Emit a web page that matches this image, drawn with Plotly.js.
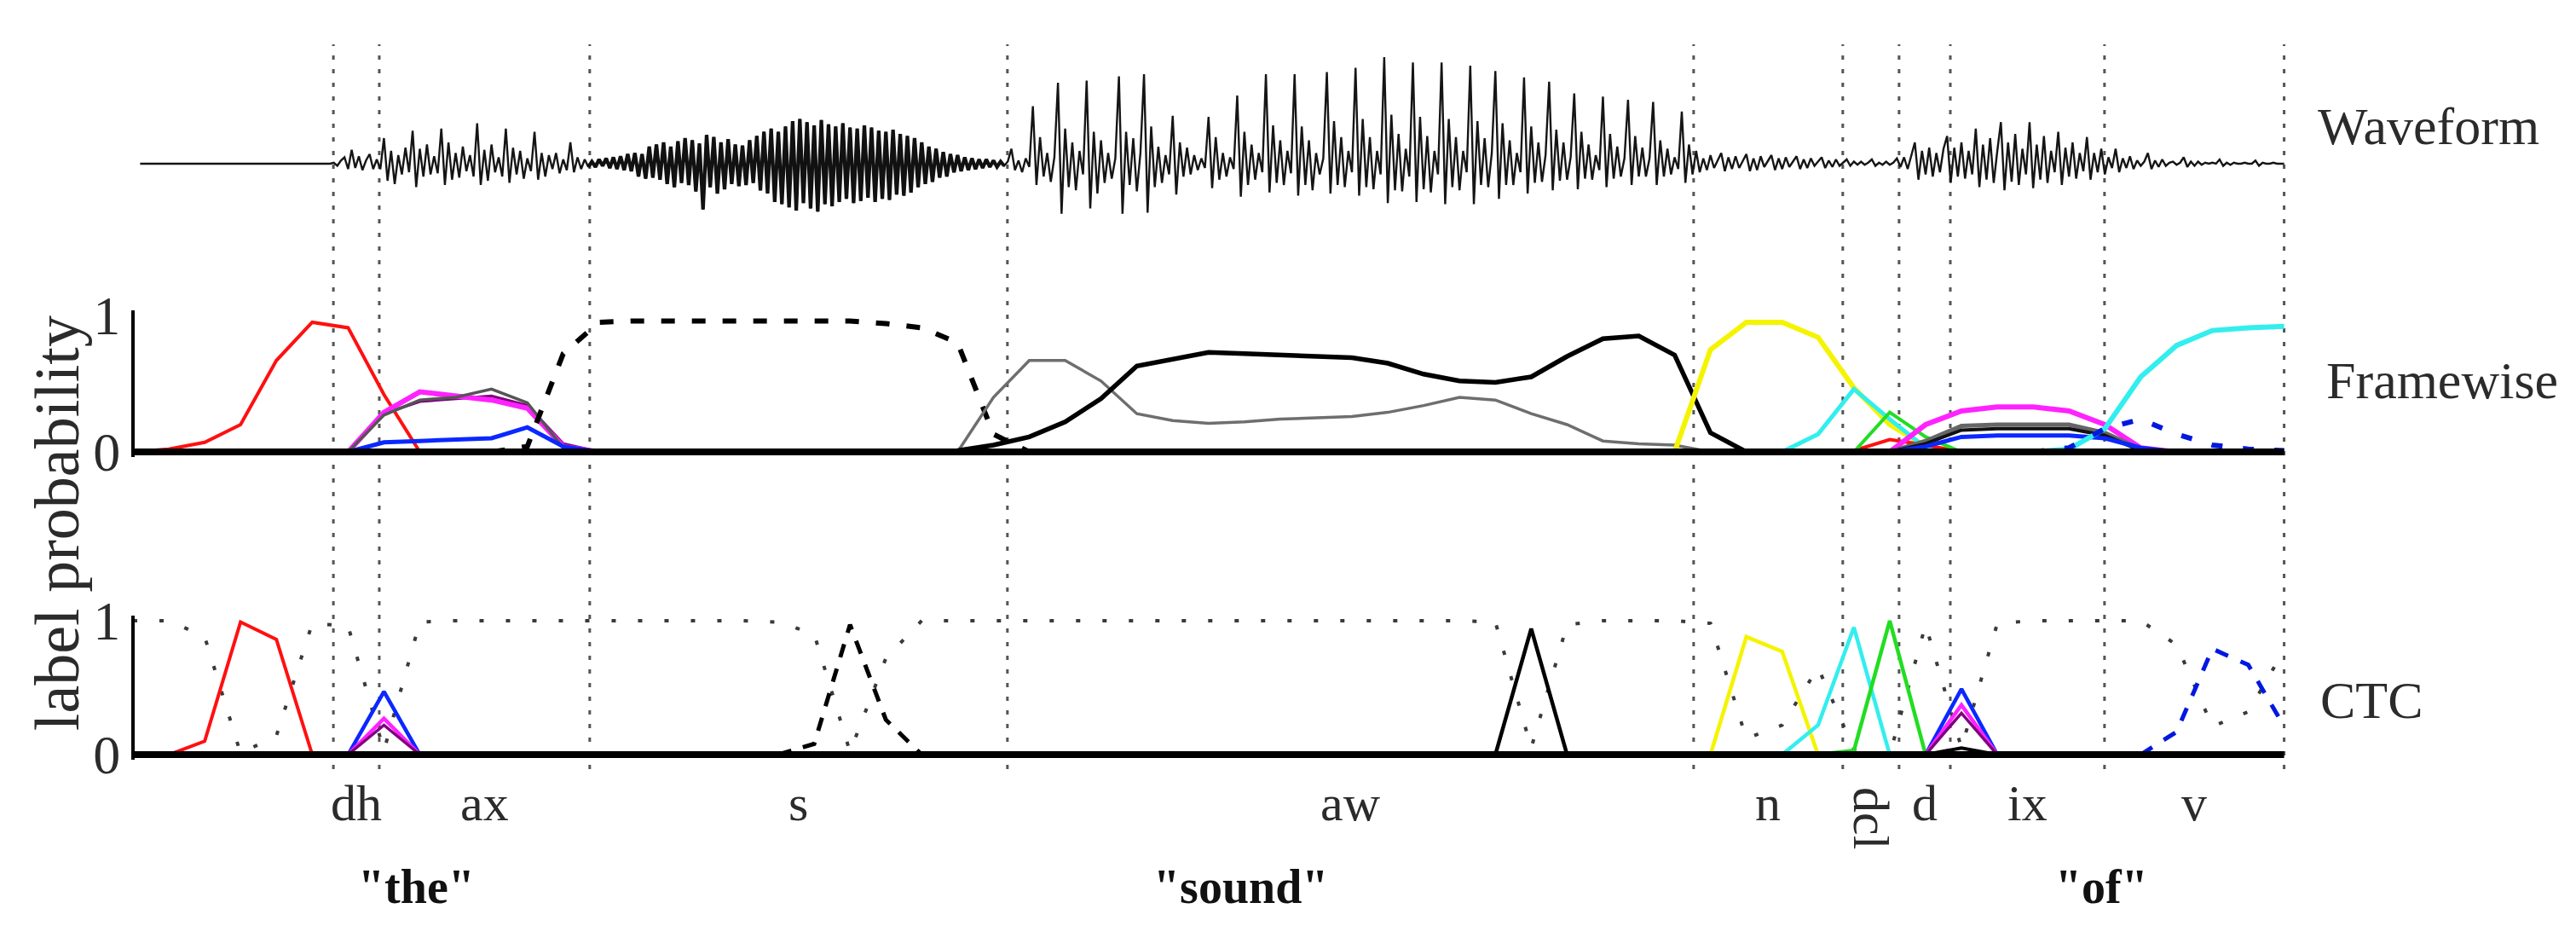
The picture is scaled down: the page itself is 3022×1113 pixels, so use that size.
<!DOCTYPE html>
<html><head><meta charset="utf-8">
<script src="https://cdn.plot.ly/plotly-3.0.1.min.js"></script>
<style>html,body{margin:0;padding:0;background:#fff;} #chart{width:3022px;height:1113px;}</style>
</head><body><div id="chart"></div>
<script>
// ---------- segmentation (x unit = frame, 10 ms) ----------
const phoneLabels = ['dh','ax','s','aw','n','dcl','d','ix','v'];
const phoneBounds = [5.59, 6.87, 12.74, 24.39, 43.53, 47.69, 49.26, 50.69, 54.99, 60.0];
const wordLabels = ['"the"', '"sound"', '"of"'];
const wordCenters = [7.9, 30.9, 54.9];
const panelLabels = ['Waveform', 'Framewise', 'CTC'];
const yTickVals = [0, 1];
const yTickText = ['0', '1'];

// ---------- waveform samples (start frame, step in frames) ----------
const waveStart = 0.2, waveStep = 0.1;
const waveform = [
0,0,0,0,0,0,0,0,0,0,0,0,0,0,0,0,0,0,0,0,0,0,0,0,0,0,0,0,0,0,0,0,0,0,0,0,0,0,0,0,0,0,0,0,0,0,0,0,0,0,0,0,0,
0,0.01,-0.02,0.03,0.06,-0.05,0.13,-0.04,0.07,-0.06,0.03,0.09,-0.05,0.04,
-0.05,0.24,-0.16,0.12,-0.19,0.08,-0.1,0.15,-0.08,0.31,-0.22,0.14,-0.12,0.18,-0.1,0.07,-0.09,0.33,-0.2,0.2,-0.15,0.1,-0.13,0.16,-0.07,0.08,-0.12,0.38,-0.2,0.13,-0.16,0.18,-0.08,0.06,-0.12,0.33,-0.18,0.15,-0.1,0.12,-0.14,0.05,-0.07,0.3,-0.15,0.1,-0.12,0.08,-0.05,0.1,-0.09,0.04,-0.06,0.2,-0.08,0.06,-0.05,0.04,-0.03,
0.02,-0.03,0.04,-0.02,0.05,-0.04,0.06,-0.05,0.07,-0.06,0.09,-0.07,0.1,-0.12,0.09,-0.14,0.16,-0.13,0.18,-0.15,0.2,-0.19,0.16,-0.22,0.21,-0.18,0.24,-0.2,0.22,-0.26,0.19,-0.43,0.27,-0.22,0.25,-0.28,0.2,-0.24,0.23,-0.19,0.18,-0.21,0.17,-0.2,0.22,-0.18,0.26,-0.25,0.3,-0.28,0.33,-0.36,0.3,-0.38,0.35,-0.41,0.4,-0.44,0.42,-0.37,0.39,-0.42,0.36,-0.45,0.41,-0.38,0.37,-0.4,0.35,-0.36,0.38,-0.33,0.34,-0.37,0.33,-0.35,0.36,-0.32,0.34,-0.36,0.31,-0.33,0.3,-0.34,0.32,-0.29,0.28,-0.3,0.26,-0.27,0.24,-0.22,0.2,-0.19,0.16,-0.17,0.14,-0.13,0.11,-0.12,0.09,-0.08,0.08,-0.07,0.06,-0.06,0.05,-0.05,0.04,-0.04,0.04,-0.03,0.03,-0.03,0.02,-0.02,
0.02,0.14,-0.06,0.03,-0.08,0.05,-0.03,0.54,-0.2,0.25,-0.12,0.1,-0.17,0.06,0.76,-0.47,0.33,-0.22,0.2,-0.25,0.12,-0.1,0.78,-0.42,0.3,-0.28,0.22,-0.18,0.1,-0.14,0.05,0.82,-0.47,0.3,-0.2,0.24,-0.26,0.1,0.84,-0.46,0.35,-0.22,0.16,-0.18,0.08,-0.1,0.45,-0.29,0.2,-0.12,0.15,-0.1,0.08,-0.06,0.05,-0.04,0.44,-0.23,0.25,-0.15,0.1,-0.12,0.06,-0.05,0.64,-0.31,0.3,-0.2,0.18,-0.15,0.1,-0.08,0.84,-0.27,0.36,-0.18,0.22,-0.2,0.12,-0.09,0.84,-0.3,0.35,-0.2,0.22,-0.25,0.1,-0.1,0.05,0.86,-0.28,0.4,-0.2,0.25,-0.22,0.12,-0.08,0.9,-0.3,0.42,-0.22,0.25,-0.24,0.12,-0.1,1.0,-0.37,0.46,-0.25,0.28,-0.26,0.14,-0.12,0.95,-0.36,0.44,-0.24,0.26,-0.27,0.12,-0.1,0.95,-0.38,0.42,-0.22,0.25,-0.25,0.12,-0.08,0.92,-0.38,0.4,-0.2,0.24,-0.22,0.1,0.87,-0.33,0.38,-0.2,0.22,-0.2,0.1,-0.08,0.81,-0.28,0.35,-0.18,0.2,-0.17,0.08,0.77,-0.25,0.32,-0.16,0.2,-0.15,0.06,0.66,-0.24,0.3,-0.14,0.18,-0.15,0.08,-0.06,0.63,-0.22,0.28,-0.14,0.16,-0.12,0.05,0.6,-0.2,0.26,-0.12,0.15,-0.12,0.05,0.58,-0.2,0.22,-0.12,0.14,-0.1,0.06,-0.05,0.49,-0.18,0.18,-0.1,
0.12,-0.08,0.05,-0.06,0.08,-0.04,0.03,0.1,-0.07,0.06,-0.05,0.07,-0.04,0.02,0.09,-0.07,0.05,-0.06,0.07,-0.03,0.02,0.08,-0.06,0.05,-0.05,0.06,-0.03,0.02,0.07,-0.05,0.04,-0.04,0.05,-0.02,0.02,0.06,-0.04,0.03,-0.03,0.04,-0.02,0.01,0.04,-0.02,0.02,-0.01,0.02,-0.01,0.01,0.04,-0.02,0.01,-0.01,0.02,-0.01,0.01,0.05,-0.03,0.06,-0.05,0.08,0.2,-0.15,0.12,-0.1,0.15,-0.12,0.1,-0.08,0.14,0.26,-0.18,0.15,-0.12,0.2,-0.14,0.12,-0.1,0.33,-0.22,0.18,-0.15,0.24,-0.18,0.12,0.39,-0.25,0.2,-0.17,0.28,-0.2,0.14,-0.1,0.39,-0.23,0.18,-0.15,0.26,-0.18,0.12,-0.08,0.3,-0.2,0.15,-0.12,0.2,-0.14,0.1,-0.07,0.25,-0.15,0.1,-0.08,0.14,-0.1,0.06,-0.04,0.14,-0.08,0.05,-0.04,0.07,-0.05,0.03,-0.02,0.02,0.1,-0.05,0.03,-0.03,0.04,-0.02,0.01,0.02,-0.01,0.01,0.06,-0.03,0.02,-0.02,0.02,-0.01,0.01,0,0.01,0,0.04,-0.02,0.01,-0.01,0.01,0,0,0.01,0,0,0.03,-0.02,0.01,0,0,0.01,0,0,0
];

// ---------- framewise label probabilities (start frame + per-frame values) ----------
const fwRedStart = 0;   const fwRed = [0,0.02,0.07,0.2,0.67,0.95,0.91,0.42,0];
const fwAxStart = 6;
const fwAxMagenta = [0,0.29,0.44,0.41,0.38,0.32,0.04,0];
const fwAxGray    = [0,0.27,0.38,0.40,0.46,0.36,0.03,0];
const fwAxPurple  = [0,0.28,0.37,0.39,0.41,0.34,0.06,0];
const fwAxBlue    = [0,0.07,0.08,0.09,0.10,0.18,0.04,0];
const fwSStart = 10;    const fwS = [0,0.04,0.72,0.95,0.96,0.96,0.96,0.96,0.96,0.96,0.96,0.94,0.91,0.8,0.13,0];
const fwAwGrayStart = 22;  const fwAwGray = [0,0,0.4,0.67,0.67,0.52,0.28,0.23,0.21,0.22,0.24,0.25,0.26,0.29,0.34,0.40,0.38,0.28,0.2,0.08,0.06,0.05,0];
const fwAwBlackStart = 22; const fwAwBlack = [0,0.01,0.05,0.11,0.22,0.39,0.63,0.68,0.73,0.72,0.71,0.70,0.69,0.65,0.57,0.52,0.51,0.55,0.70,0.83,0.85,0.71,0.14,0];
const fwNStart = 42;    const fwN = [0,0,0.75,0.95,0.95,0.84,0.47,0.2,0.04,0];
const fwDclStart = 45;  const fwDcl = [0,0,0.13,0.46,0.24,0.03,0];
const fwDStart = 47;    const fwD = [0,0,0.29,0.11,0];
const fwRed2Start = 47; const fwRed2 = [0,0.01,0.09,0.05,0];
const fwIxStart = 49;
const fwIxMagenta = [0,0.2,0.3,0.33,0.33,0.3,0.2,0.03,0];
const fwIxGray    = [0,0.08,0.19,0.2,0.2,0.2,0.14,0.02,0];
const fwIxBlack   = [0,0.06,0.16,0.17,0.17,0.17,0.12,0.01,0];
const fwIxBlue    = [0,0.04,0.11,0.12,0.12,0.12,0.1,0.03,0];
const fwVStart = 53;
const fwVCyan = [0,0.02,0.17,0.55,0.78,0.89,0.91,0.92];
const fwVBlueDash = [0,0.03,0.17,0.24,0.13,0.05,0.02,0.01];
const baseT = [0, 60];  const baseV = [0, 0];

// ---------- CTC outputs ----------
const ctcBlankStart = 0;
const ctcBlank = [1,1,0.88,0.01,0.14,0.98,0.96,0.03,0.99,1,1,1,1,1,1,1,1,1,0.99,0.9,0.02,0.72,1,1,1,1,1,1,1,1,1,1,1,1,1,1,1,1,0.99,0.05,0.97,1,1,1,0.98,0.12,0.22,0.65,0.04,0,0.97,0.05,0.98,1,1,1,1,0.82,0.21,0.32,0.78];
const ctcRedStart = 1;  const ctcRed = [0,0.1,0.99,0.86,0];
const ctcDhStart = 6;
const ctcDhBlue = [0,0.47,0]; const ctcDhMagenta = [0,0.27,0]; const ctcDhPurple = [0,0.22,0];
const ctcSStart = 18;   const ctcS = [0,0.08,0.97,0.26,0];
const ctcAwStart = 38;  const ctcAw = [0,0.94,0];
const ctcNStart = 44;   const ctcN = [0,0.88,0.77,0];
const ctcDclStart = 46; const ctcDcl = [0,0.22,0.95,0];
const ctcDStart = 47;   const ctcD = [0,0.03,1.0,0];
const ctcIxStart = 50;
const ctcIxBlue = [0,0.49,0]; const ctcIxMagenta = [0,0.37,0]; const ctcIxPurple = [0,0.31,0]; const ctcIxBlack = [0,0.05,0];
const ctcVStart = 56;   const ctcV = [0,0.17,0.79,0.67,0.21];

// ---------- build ----------
const FONT = '"Liberation Serif","Times New Roman",Times,serif';
const TXT = '#2b2b2b';
const frames = (start, vals) => vals.map((_, i) => start + i);
function ln(start, vals, yaxis, color, width, dash) {
  return {type:'scatter', mode:'lines', x: frames(start, vals), y: vals, xaxis:'x', yaxis: yaxis,
          line:{color: color, width: width, dash: dash || 'solid'}, hoverinfo:'skip', showlegend:false};
}
const traces = [];
// waveform (whole), then the fricative /s/ stretch again with a heavier stroke (dense noise)
const waveT = waveform.map((_, i) => waveStart + i*waveStep);
traces.push({type:'scatter', mode:'lines', x: waveT, y: waveform,
  xaxis:'x', yaxis:'y3', line:{color:'#151515', width:2.4}, hoverinfo:'skip', showlegend:false});
const sIdx = waveT.map((t, i) => i).filter(i => waveT[i] >= phoneBounds[2] - 0.05 && waveT[i] <= phoneBounds[3] - 0.05);
traces.push({type:'scatter', mode:'lines', x: sIdx.map(i => waveT[i]), y: sIdx.map(i => waveform[i]),
  xaxis:'x', yaxis:'y3', line:{color:'#111', width:4.2}, hoverinfo:'skip', showlegend:false});
// framewise
traces.push(ln(fwRedStart, fwRed, 'y', '#ff1010', 4));
traces.push(ln(fwAxStart, fwAxPurple, 'y', '#800080', 3.5));
traces.push(ln(fwAxStart, fwAxMagenta, 'y', '#ff22ff', 6));
traces.push(ln(fwAxStart, fwAxGray, 'y', '#555555', 3.5));
traces.push(ln(fwAxStart, fwAxBlue, 'y', '#0a28ff', 5));
traces.push(ln(fwSStart, fwS, 'y', '#000000', 6, '16px,20px'));
traces.push(ln(fwAwGrayStart, fwAwGray, 'y', '#6e6e6e', 3.5));
traces.push(ln(fwAwBlackStart, fwAwBlack, 'y', '#000000', 5.5));
traces.push(ln(fwNStart, fwN, 'y', '#f4f400', 6));
traces.push(ln(fwDclStart, fwDcl, 'y', '#33eeee', 5));
traces.push(ln(fwRed2Start, fwRed2, 'y', '#ff1010', 4));
traces.push(ln(fwDStart, fwD, 'y', '#22dd22', 4));
traces.push(ln(fwIxStart, fwIxMagenta, 'y', '#ff22ff', 6));
traces.push(ln(fwIxStart, fwIxGray, 'y', '#666666', 5));
traces.push(ln(fwIxStart, fwIxBlack, 'y', '#111111', 4));
traces.push(ln(fwIxStart, fwIxBlue, 'y', '#0a28ff', 5));
traces.push(ln(fwVStart, fwVCyan, 'y', '#33eeee', 6));
traces.push(ln(fwVStart, fwVBlueDash, 'y', '#0018e0', 6, '13px,24px'));
traces.push({type:'scatter', mode:'lines', x: baseT, y: baseV, xaxis:'x', yaxis:'y', line:{color:'#000', width:8}, hoverinfo:'skip', showlegend:false});
// CTC
traces.push(ln(ctcBlankStart, ctcBlank, 'y2', '#3a3a3a', 4, '5px,26px'));
traces.push(ln(ctcRedStart, ctcRed, 'y2', '#ff1010', 4));
traces.push(ln(ctcDhStart, ctcDhBlue, 'y2', '#0a28ff', 4.5));
traces.push(ln(ctcDhStart, ctcDhMagenta, 'y2', '#ff22ff', 4.5));
traces.push(ln(ctcDhStart, ctcDhPurple, 'y2', '#800080', 3.5));
traces.push(ln(ctcSStart, ctcS, 'y2', '#000000', 5, '16px,14px'));
traces.push(ln(ctcAwStart, ctcAw, 'y2', '#000000', 4.5));
traces.push(ln(ctcNStart, ctcN, 'y2', '#f4f400', 4.5));
traces.push(ln(ctcDclStart, ctcDcl, 'y2', '#33eeee', 4.5));
traces.push(ln(ctcDStart, ctcD, 'y2', '#22dd22', 4.5));
traces.push(ln(ctcIxStart, ctcIxBlue, 'y2', '#0a28ff', 4.5));
traces.push(ln(ctcIxStart, ctcIxMagenta, 'y2', '#ff22ff', 4.5));
traces.push(ln(ctcIxStart, ctcIxPurple, 'y2', '#800080', 3.5));
traces.push(ln(ctcIxStart, ctcIxBlack, 'y2', '#000000', 4));
traces.push(ln(ctcVStart, ctcV, 'y2', '#0018e0', 5, '16px,16px'));
traces.push({type:'scatter', mode:'lines', x: baseT, y: baseV, xaxis:'x', yaxis:'y2', line:{color:'#000', width:8}, hoverinfo:'skip', showlegend:false});

const annotations = [];
phoneLabels.forEach((p, j) => {
  const c = (phoneBounds[j] + phoneBounds[j+1]) / 2;
  const rot = (p === 'dcl');
  annotations.push({xref:'x', yref:'paper', x: c, y: rot ? 0.1375 : 0.1536, text: p, showarrow:false,
    textangle: rot ? 90 : 0, xanchor:'center', yanchor:'middle', font:{family:FONT, size:60, color:TXT}});
});
wordLabels.forEach((w, j) => {
  annotations.push({xref:'x', yref:'paper', x: wordCenters[j], y: 0.0656, text: '<b>' + w + '</b>', showarrow:false,
    xanchor:'center', yanchor:'middle', font:{family:FONT, size:56, color:'#111'}});
});
const panelLabelPos = [[0.8991, 0.867], [0.9024, 0.5993], [0.9001, 0.2624]];
panelLabels.forEach((t, j) => {
  annotations.push({xref:'paper', yref:'paper', x: panelLabelPos[j][0], y: panelLabelPos[j][1], text: t, showarrow:false,
    xanchor:'left', yanchor:'middle', font:{family:FONT, size:62, color:TXT}});
});
annotations.push({xref:'paper', yref:'paper', x: 0.0222, y: 0.4483, text:'label probability', textangle:-90, showarrow:false,
  xanchor:'center', yanchor:'middle', font:{family:FONT, size:74, color:TXT}});

const probAxis = (domain) => ({domain: domain, range:[-0.04, 1.04], anchor:'free', position: 156/3022, side:'left',
  showline:true, linecolor:'#000', linewidth:4, showgrid:false, zeroline:false, ticks:'',
  tickmode:'array', tickvals: yTickVals, ticktext: yTickText, ticklabelstandoff: 0,
  tickfont:{family:FONT, size:64, color:TXT}, fixedrange:true, automargin:false});

const layout = {
  width:3022, height:1113, margin:{l:0, r:0, t:0, b:0}, paper_bgcolor:'#ffffff', plot_bgcolor:'rgba(0,0,0,0)',
  showlegend:false,
  xaxis:{domain:[147.59/3022, 2688.0/3022], range:[-0.2, 60.2], visible:false, fixedrange:true},
  yaxis: probAxis([1 - 536.4/1113, 1 - 363.6/1113]),
  yaxis2: probAxis([1 - 891.3/1113, 1 - 721.7/1113]),
  yaxis3: {domain:[1 - 342/1113, 1 - 42/1113], range:[-1.2, 1.2], visible:false, fixedrange:true},
  shapes: phoneBounds.map(b => ({type:'line', xref:'x', yref:'paper', x0:b, x1:b, y0: 1 - 902/1113, y1: 1 - 52/1113,
    line:{color:'#555', width:3, dash:'5px,11px'}, layer:'below'})),
  annotations: annotations
};
Plotly.newPlot('chart', traces, layout, {staticPlot:true});
</script></body></html>
